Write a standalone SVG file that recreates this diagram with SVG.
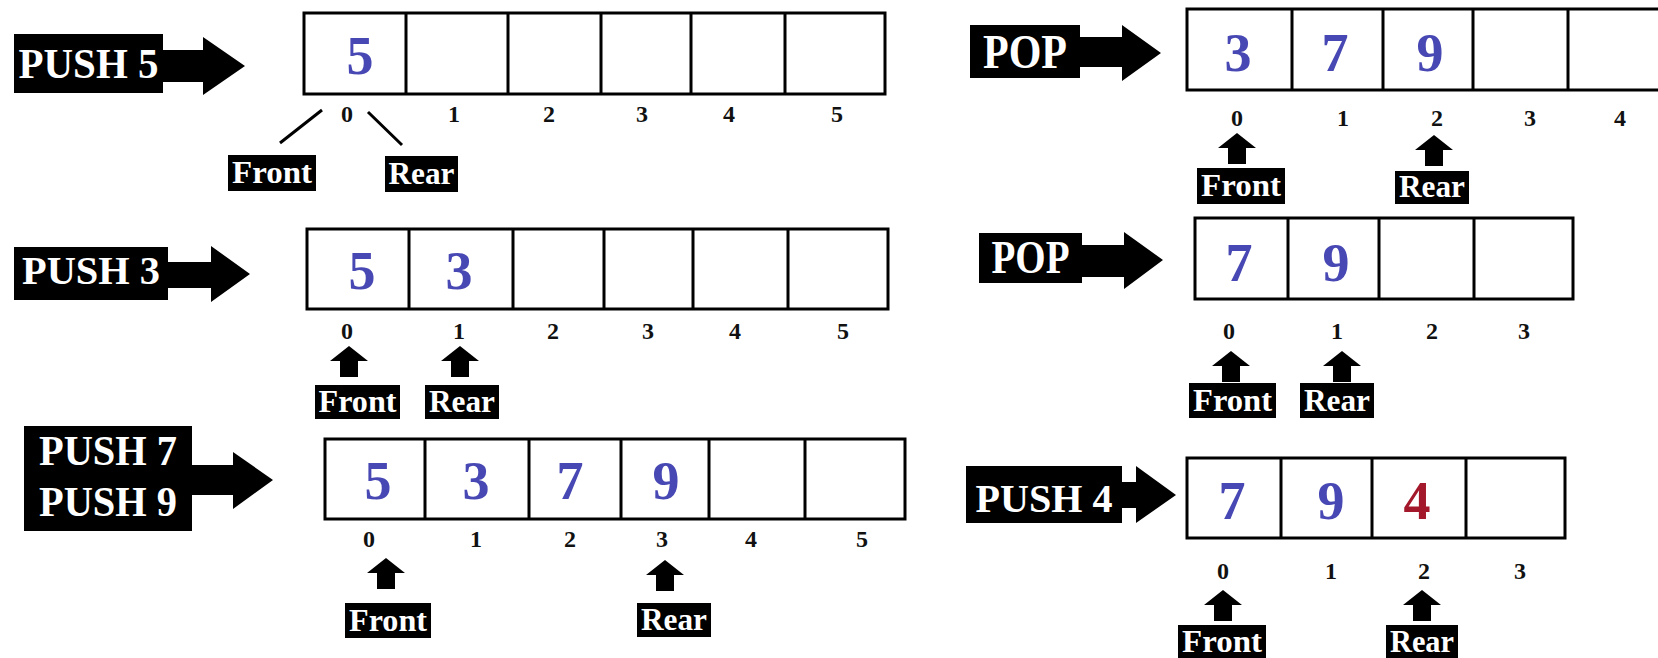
<svg xmlns="http://www.w3.org/2000/svg" width="1658" height="658" viewBox="0 0 1658 658">
  <defs>
    <style>
      .cmd{fill:#000}
      .cmdt{font-family:"Liberation Serif","Times New Roman",serif;font-weight:bold;fill:#fff;text-anchor:middle}
      .arr{fill:#fff;stroke:#000;stroke-width:3}
      .div{stroke:#000;stroke-width:3}
      .val{font-family:"Liberation Serif","Times New Roman",serif;font-weight:bold;font-size:54px;fill:#4848b4;text-anchor:middle}
      .new{fill:#a3182b}
      .idx{font-family:"Liberation Serif","Times New Roman",serif;font-weight:bold;font-size:24px;fill:#111;text-anchor:middle}
      .tag{fill:#000}
      .tagt{font-family:"Liberation Serif","Times New Roman",serif;font-weight:bold;font-size:32px;fill:#fff;text-anchor:middle}
      .ptr{fill:#000}
      .lead{stroke:#000;stroke-width:3;fill:none}
    </style>
    <!-- block arrow pointing up; origin at the tip -->
    <path id="up" d="M0,0 L19,15 L9,15 L9,31 L-9,31 L-9,15 L-19,15 Z"/>
  </defs>

  <rect width="1658" height="658" fill="#fff"/>

  <!-- step 1: PUSH 5 -->
  <g id="push5">
    <rect class="cmd" x="14" y="34" width="149" height="59"/>
    <text class="cmdt" x="88.5" y="78" font-size="42" textLength="140" lengthAdjust="spacingAndGlyphs">PUSH 5</text>
    <rect class="arr" x="304" y="13" width="581" height="81"/>
    <path class="div" d="M406,13V94M508,13V94M601,13V94M691,13V94M785,13V94"/>
    <text class="val" x="360" y="74" textLength="27" lengthAdjust="spacingAndGlyphs">5</text>
    <text class="idx" y="122"><tspan x="347">0</tspan><tspan x="454">1</tspan><tspan x="549">2</tspan><tspan x="642">3</tspan><tspan x="729">4</tspan><tspan x="837">5</tspan></text>
    <rect class="tag" x="228" y="155" width="88" height="36"/>
    <text class="tagt" x="272" y="183" textLength="80" lengthAdjust="spacingAndGlyphs">Front</text>
    <rect class="tag" x="385" y="156" width="73" height="36"/>
    <text class="tagt" x="421.5" y="184" textLength="66" lengthAdjust="spacingAndGlyphs">Rear</text>
  </g>

  <!-- step 2: PUSH 3 -->
  <g id="push3">
    <rect class="cmd" x="14" y="247" width="154" height="53"/>
    <text class="cmdt" x="91" y="284" font-size="40" textLength="138" lengthAdjust="spacingAndGlyphs">PUSH 3</text>
    <rect class="arr" x="307" y="229" width="581" height="80"/>
    <path class="div" d="M409,229V309M513,229V309M604,229V309M693,229V309M788,229V309"/>
    <text class="val" x="362" y="289" textLength="27" lengthAdjust="spacingAndGlyphs">5</text>
    <text class="val" x="459" y="289" textLength="27" lengthAdjust="spacingAndGlyphs">3</text>
    <text class="idx" y="339"><tspan x="347">0</tspan><tspan x="459">1</tspan><tspan x="553">2</tspan><tspan x="648">3</tspan><tspan x="735">4</tspan><tspan x="843">5</tspan></text>
    <rect class="tag" x="315" y="385" width="85" height="34"/>
    <text class="tagt" x="357.5" y="412" textLength="78" lengthAdjust="spacingAndGlyphs">Front</text>
    <rect class="tag" x="425" y="385" width="74" height="34"/>
    <text class="tagt" x="462" y="412" textLength="66" lengthAdjust="spacingAndGlyphs">Rear</text>
  </g>

  <!-- step 3: PUSH 7, PUSH 9 -->
  <g id="push79">
    <rect class="cmd" x="24" y="426" width="168" height="105"/>
    <text class="cmdt" x="108" y="465" font-size="42" textLength="138" lengthAdjust="spacingAndGlyphs">PUSH 7</text>
    <text class="cmdt" x="108" y="516" font-size="42" textLength="138" lengthAdjust="spacingAndGlyphs">PUSH 9</text>
    <rect class="arr" x="325" y="439" width="580" height="80"/>
    <path class="div" d="M425,439V519M529,439V519M621,439V519M709,439V519M805,439V519"/>
    <text class="val" x="378" y="499" textLength="27" lengthAdjust="spacingAndGlyphs">5</text>
    <text class="val" x="476" y="499" textLength="27" lengthAdjust="spacingAndGlyphs">3</text>
    <text class="val" x="570" y="499" textLength="27" lengthAdjust="spacingAndGlyphs">7</text>
    <text class="val" x="666" y="499" textLength="27" lengthAdjust="spacingAndGlyphs">9</text>
    <text class="idx" y="547"><tspan x="369">0</tspan><tspan x="476">1</tspan><tspan x="570">2</tspan><tspan x="662">3</tspan><tspan x="751">4</tspan><tspan x="862">5</tspan></text>
    <rect class="tag" x="345" y="603" width="86" height="35"/>
    <text class="tagt" x="388" y="631" textLength="78" lengthAdjust="spacingAndGlyphs">Front</text>
    <rect class="tag" x="637" y="603" width="74" height="34"/>
    <text class="tagt" x="674" y="630" textLength="66" lengthAdjust="spacingAndGlyphs">Rear</text>
  </g>

  <!-- step 4: POP -->
  <g id="pop1">
    <rect class="cmd" x="970" y="25" width="110" height="53"/>
    <text class="cmdt" x="1025" y="68" font-size="48" textLength="84" lengthAdjust="spacingAndGlyphs">POP</text>
    <rect class="arr" x="1187" y="9" width="490" height="81"/>
    <path class="div" d="M1292,9V90M1383,9V90M1473,9V90M1568,9V90"/>
    <text class="val" x="1238" y="71" textLength="27" lengthAdjust="spacingAndGlyphs">3</text>
    <text class="val" x="1335" y="71" textLength="27" lengthAdjust="spacingAndGlyphs">7</text>
    <text class="val" x="1430" y="71" textLength="27" lengthAdjust="spacingAndGlyphs">9</text>
    <text class="idx" y="126"><tspan x="1237">0</tspan><tspan x="1343">1</tspan><tspan x="1437">2</tspan><tspan x="1530">3</tspan><tspan x="1620">4</tspan></text>
    <rect class="tag" x="1197" y="168" width="88" height="36"/>
    <text class="tagt" x="1241" y="196" textLength="80" lengthAdjust="spacingAndGlyphs">Front</text>
    <rect class="tag" x="1395" y="171" width="74" height="33"/>
    <text class="tagt" x="1432" y="197" textLength="66" lengthAdjust="spacingAndGlyphs">Rear</text>
  </g>

  <!-- step 5: POP -->
  <g id="pop2">
    <rect class="cmd" x="979" y="233" width="103" height="50"/>
    <text class="cmdt" x="1030.5" y="273" font-size="46" textLength="78" lengthAdjust="spacingAndGlyphs">POP</text>
    <rect class="arr" x="1195" y="218" width="378" height="81"/>
    <path class="div" d="M1288,218V299M1379,218V299M1474,218V299"/>
    <text class="val" x="1239" y="281" textLength="27" lengthAdjust="spacingAndGlyphs">7</text>
    <text class="val" x="1336" y="281" textLength="27" lengthAdjust="spacingAndGlyphs">9</text>
    <text class="idx" y="339"><tspan x="1229">0</tspan><tspan x="1337">1</tspan><tspan x="1432">2</tspan><tspan x="1524">3</tspan></text>
    <rect class="tag" x="1189" y="383" width="87" height="35"/>
    <text class="tagt" x="1232.5" y="411" textLength="79" lengthAdjust="spacingAndGlyphs">Front</text>
    <rect class="tag" x="1300" y="383" width="74" height="35"/>
    <text class="tagt" x="1337" y="411" textLength="66" lengthAdjust="spacingAndGlyphs">Rear</text>
  </g>

  <!-- step 6: PUSH 4 -->
  <g id="push4">
    <rect class="cmd" x="966" y="466" width="156" height="57"/>
    <text class="cmdt" x="1044" y="512" font-size="41" textLength="137" lengthAdjust="spacingAndGlyphs">PUSH 4</text>
    <rect class="arr" x="1187" y="458" width="378" height="80"/>
    <path class="div" d="M1281,458V538M1372,458V538M1466,458V538"/>
    <text class="val" x="1232" y="519" textLength="27" lengthAdjust="spacingAndGlyphs">7</text>
    <text class="val" x="1331" y="519" textLength="27" lengthAdjust="spacingAndGlyphs">9</text>
    <text class="val new" x="1417" y="519" textLength="27" lengthAdjust="spacingAndGlyphs">4</text>
    <text class="idx" y="579"><tspan x="1223">0</tspan><tspan x="1331">1</tspan><tspan x="1424">2</tspan><tspan x="1520">3</tspan></text>
    <rect class="tag" x="1178" y="625" width="88" height="36"/>
    <text class="tagt" x="1222" y="652" textLength="80" lengthAdjust="spacingAndGlyphs">Front</text>
    <rect class="tag" x="1386" y="625" width="72" height="36"/>
    <text class="tagt" x="1422" y="652" textLength="64" lengthAdjust="spacingAndGlyphs">Rear</text>
  </g>

  <!-- operation arrows, pointer arrows and leader lines -->
  <g id="connectors">
    <path class="cmd" d="M163,50H203V37L245,66L203,95V82H163Z"/>
    <path class="cmd" d="M168,262H211V246L250,274L211,302V288H168Z"/>
    <path class="cmd" d="M192,465H233V452L273,480L233,509V495H192Z"/>
    <path class="cmd" d="M1080,37H1122V25L1161,53L1122,81V67H1080Z"/>
    <path class="cmd" d="M1082,245H1124V232L1163,260L1124,289V277H1082Z"/>
    <path class="cmd" d="M1122,482H1136V466L1176,495L1136,523V508H1122Z"/>

    <path class="lead" d="M322,110L280,143M368,112L402,145"/>

    <use class="ptr" href="#up" x="349" y="346"/>
    <use class="ptr" href="#up" x="460" y="346"/>
    <use class="ptr" href="#up" x="386" y="558"/>
    <use class="ptr" href="#up" x="665" y="560"/>
    <use class="ptr" href="#up" x="1237" y="133"/>
    <use class="ptr" href="#up" x="1434" y="135"/>
    <use class="ptr" href="#up" x="1231" y="351"/>
    <use class="ptr" href="#up" x="1342" y="351"/>
    <use class="ptr" href="#up" x="1223" y="590"/>
    <use class="ptr" href="#up" x="1422" y="590"/>
  </g>
</svg>
